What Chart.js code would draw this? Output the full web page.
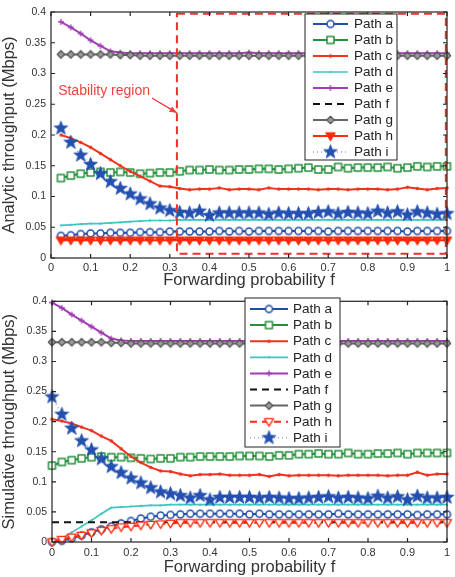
<!DOCTYPE html>
<html>
<head>
<meta charset="utf-8">
<script src="https://cdn.jsdelivr.net/npm/chart.js@4"></script>
<style>
  body { margin: 0; background: #fff; }
  canvas { display: block; }
</style>
</head>
<body>
<canvas id="top" width="455" height="290"></canvas>
<canvas id="bottom" width="455" height="287"></canvas>
<script>
// forwarding probability f
const xTop = [0.025,0.05,0.075,0.1,0.125,0.15,0.175,0.2,0.225,0.25,0.275,0.3,0.325,0.35,0.375,0.4,0.425,0.45,0.475,0.5,
  0.525,0.55,0.575,0.6,0.625,0.65,0.675,0.7,0.725,0.75,0.775,0.8,0.825,0.85,0.875,0.9,0.925,0.95,0.975,1];
const xBottom = [0,0.025,0.05,0.075,0.1,0.125,0.15,0.175,0.2,0.225,0.25,0.275,0.3,0.325,0.35,0.375,0.4,0.425,0.45,0.475,0.5,
  0.525,0.55,0.575,0.6,0.625,0.65,0.675,0.7,0.725,0.75,0.775,0.8,0.825,0.85,0.875,0.9,0.925,0.95,0.975,1];

const xTicks = [0,0.1,0.2,0.3,0.4,0.5,0.6,0.7,0.8,0.9,1];
const yTicks = [0,0.05,0.1,0.15,0.2,0.25,0.3,0.35,0.4];
const pathNames = ['Path a','Path b','Path c','Path d','Path e','Path f','Path g','Path h','Path i'];

// analytic throughput (Mbps)
const topA = [0.036,0.037,0.039,0.040,0.040,0.041,0.041,0.041,0.042,0.042,0.042,0.043,0.043,0.043,0.043,0.043,0.044,0.043,0.044,0.043,
  0.044,0.044,0.044,0.044,0.044,0.044,0.044,0.043,0.044,0.044,0.044,0.044,0.044,0.044,0.044,0.043,0.044,0.044,0.044,0.044];
const topB = [0.130,0.134,0.137,0.139,0.140,0.139,0.140,0.139,0.137,0.138,0.139,0.139,0.141,0.143,0.143,0.144,0.143,0.143,0.144,0.144,
  0.145,0.145,0.144,0.145,0.146,0.147,0.144,0.144,0.148,0.146,0.147,0.147,0.147,0.148,0.146,0.147,0.149,0.148,0.149,0.149];
const topC = [0.200,0.195,0.188,0.180,0.170,0.160,0.150,0.141,0.133,0.125,0.117,0.116,0.113,0.111,0.112,0.112,0.114,0.111,0.112,0.112,
  0.111,0.114,0.112,0.112,0.112,0.112,0.111,0.112,0.112,0.111,0.112,0.112,0.112,0.111,0.112,0.115,0.113,0.111,0.113,0.114];
const topD = [0.053,0.054,0.055,0.056,0.056,0.057,0.058,0.059,0.060,0.061,0.061,0.061,0.062,0.062,0.062,0.062,0.062,0.062,0.062,0.062,
  0.062,0.062,0.062,0.062,0.062,0.062,0.062,0.062,0.062,0.062,0.062,0.062,0.062,0.062,0.062,0.062,0.062,0.062,0.062,0.062];
const topE = [0.384,0.375,0.365,0.354,0.345,0.336,0.334,0.333,0.333,0.333,0.333,0.333,0.333,0.333,0.333,0.333,0.333,0.333,0.333,0.334,
  0.333,0.333,0.333,0.333,0.333,0.333,0.333,0.333,0.333,0.333,0.333,0.333,0.333,0.333,0.333,0.333,0.333,0.333,0.333,0.333];
const topF = [0.030,0.030,0.030,0.030,0.030,0.030,0.030,0.030,0.030,0.030,0.030,0.030,0.030,0.030,0.030,0.030,0.030,0.030,0.030,0.030,
  0.030,0.030,0.030,0.030,0.030,0.030,0.030,0.030,0.030,0.030,0.030,0.030,0.030,0.030,0.030,0.030,0.030,0.030,0.030,0.030];
const topG = [0.331,0.331,0.331,0.331,0.331,0.331,0.330,0.330,0.329,0.329,0.329,0.329,0.329,0.329,0.329,0.329,0.329,0.329,0.329,0.329,
  0.329,0.329,0.329,0.329,0.329,0.329,0.329,0.329,0.329,0.329,0.329,0.329,0.329,0.329,0.329,0.329,0.329,0.329,0.329,0.329];
const topH = [0.029,0.029,0.029,0.029,0.029,0.029,0.029,0.029,0.029,0.029,0.029,0.029,0.029,0.029,0.029,0.029,0.029,0.029,0.029,0.029,
  0.029,0.029,0.029,0.029,0.029,0.029,0.029,0.029,0.029,0.029,0.029,0.029,0.029,0.029,0.029,0.029,0.029,0.029,0.029,0.029];
const topI = [0.211,0.188,0.167,0.152,0.137,0.124,0.113,0.104,0.096,0.088,0.081,0.077,0.074,0.073,0.076,0.069,0.073,0.073,0.073,0.073,
  0.073,0.071,0.073,0.072,0.072,0.072,0.074,0.075,0.072,0.074,0.073,0.072,0.076,0.073,0.075,0.070,0.075,0.073,0.071,0.072];

// simulative throughput (Mbps)
const botA = [0.000,0.002,0.006,0.011,0.016,0.021,0.026,0.031,0.035,0.039,0.042,0.044,0.045,0.046,0.047,0.047,0.047,0.047,0.047,0.047,
  0.046,0.047,0.046,0.046,0.046,0.046,0.046,0.046,0.046,0.047,0.046,0.046,0.046,0.046,0.046,0.046,0.046,0.045,0.046,0.046,0.046];
const botB = [0.127,0.133,0.136,0.139,0.141,0.142,0.141,0.141,0.140,0.139,0.138,0.139,0.139,0.141,0.141,0.142,0.142,0.142,0.142,0.143,
  0.143,0.143,0.142,0.144,0.144,0.146,0.146,0.147,0.146,0.146,0.148,0.146,0.146,0.147,0.147,0.148,0.146,0.148,0.148,0.148,0.148];
const botC = [0.204,0.201,0.197,0.191,0.185,0.176,0.168,0.155,0.142,0.132,0.124,0.118,0.117,0.113,0.110,0.112,0.112,0.113,0.111,0.111,
  0.111,0.112,0.109,0.112,0.110,0.111,0.111,0.111,0.111,0.110,0.111,0.111,0.111,0.111,0.110,0.111,0.111,0.116,0.111,0.113,0.113];
const botD = [0.000,0.006,0.016,0.026,0.036,0.047,0.057,0.058,0.059,0.060,0.061,0.061,0.062,0.062,0.062,0.062,0.062,0.062,0.062,0.062,
  0.062,0.062,0.062,0.062,0.062,0.062,0.062,0.062,0.062,0.062,0.062,0.062,0.062,0.062,0.062,0.062,0.062,0.062,0.062,0.062,0.062];
const botE = [0.398,0.389,0.378,0.368,0.358,0.348,0.338,0.335,0.334,0.334,0.334,0.334,0.334,0.334,0.334,0.334,0.334,0.334,0.334,0.334,
  0.334,0.334,0.334,0.334,0.334,0.334,0.334,0.334,0.334,0.334,0.334,0.334,0.334,0.334,0.334,0.334,0.334,0.334,0.334,0.334,0.334];
const botF = [0.033,0.033,0.033,0.033,0.033,0.033,0.033,0.033,0.033,0.033,0.033,0.033,0.033,0.033,0.033,0.033,0.033,0.033,0.033,0.033,
  0.033,0.033,0.033,0.033,0.033,0.033,0.033,0.033,0.033,0.033,0.033,0.033,0.033,0.033,0.033,0.033,0.033,0.033,0.033,0.033,0.033];
const botG = [0.332,0.332,0.332,0.332,0.332,0.332,0.331,0.331,0.330,0.330,0.330,0.330,0.330,0.330,0.330,0.330,0.330,0.330,0.330,0.330,
  0.330,0.330,0.330,0.330,0.330,0.330,0.330,0.330,0.330,0.330,0.330,0.330,0.330,0.330,0.330,0.330,0.330,0.330,0.330,0.330,0.330];
const botH = [0.000,0.004,0.008,0.011,0.015,0.019,0.022,0.025,0.026,0.028,0.029,0.030,0.031,0.032,0.032,0.032,0.032,0.032,0.032,0.032,
  0.032,0.032,0.032,0.032,0.032,0.032,0.032,0.032,0.032,0.032,0.032,0.032,0.032,0.032,0.032,0.032,0.032,0.032,0.032,0.032,0.032];
const botI = [0.241,0.212,0.189,0.168,0.153,0.138,0.125,0.115,0.106,0.098,0.090,0.083,0.080,0.077,0.073,0.077,0.070,0.074,0.074,0.074,
  0.074,0.073,0.074,0.073,0.072,0.072,0.073,0.074,0.075,0.073,0.074,0.073,0.072,0.076,0.073,0.075,0.070,0.076,0.073,0.073,0.074];

Chart.defaults.font.family = '"Liberation Sans", Arial, sans-serif';
Chart.defaults.color = '#333';

// marker images, matlab style
function marker(shape, size, stroke, fill, lw) {
  const pad = Math.ceil(lw) + 1;
  const d = Math.ceil(size) + pad * 2;
  const c = document.createElement('canvas');
  c.width = d; c.height = d;
  const g = c.getContext('2d');
  const m = d / 2, r = size / 2;
  g.lineWidth = lw; g.strokeStyle = stroke; g.fillStyle = fill;
  g.lineJoin = 'round';
  g.beginPath();
  if (shape === 'circle') g.arc(m, m, r, 0, Math.PI * 2);
  else if (shape === 'square') g.rect(m - r, m - r, size, size);
  else if (shape === 'diamond') { g.moveTo(m, m - r); g.lineTo(m + r, m); g.lineTo(m, m + r); g.lineTo(m - r, m); g.closePath(); }
  else if (shape === 'tri') { g.moveTo(m - r, m - r * 0.7); g.lineTo(m + r, m - r * 0.7); g.lineTo(m, m + r); g.closePath(); }
  else if (shape === 'plus') { g.moveTo(m - r, m); g.lineTo(m + r, m); g.moveTo(m, m - r); g.lineTo(m, m + r); }
  else if (shape === 'star') {
    for (let k = 0; k < 10; k++) {
      const a = -Math.PI / 2 + k * Math.PI / 5;
      const rr = k % 2 ? r * 0.42 : r;
      g.lineTo(m + rr * Math.cos(a), m + rr * Math.sin(a));
    }
    g.closePath();
  }
  if (fill !== 'none' && shape !== 'plus') g.fill();
  g.stroke();
  return c;
}

function styles(hollowH) {
  return [
    { color: '#1f4ea8', width: 2, dash: [], pt: marker('circle', 7, '#1f4ea8', '#fff', 1.5) },
    { color: '#23903a', width: 2, dash: [], pt: marker('square', 7, '#23903a', '#fff', 1.5) },
    { color: '#f0321e', width: 2, dash: [], pt: marker('circle', 2.5, '#f0321e', '#f0321e', 1) },
    { color: '#3cc6c0', width: 1.7, dash: [], pt: marker('circle', 1.6, '#3cc6c0', '#3cc6c0', 0.8) },
    { color: '#a23cb4', width: 2, dash: [], pt: marker('plus', 6, '#a23cb4', 'none', 1.3) },
    { color: '#111', width: 2, dash: [7, 5], pt: null },
    { color: '#666', width: 2, dash: [], pt: marker('diamond', 7.5, '#555', '#9a9a9a', 1.2) },
    { color: '#ff2a0a', width: 2, dash: hollowH ? [7, 5] : [], pt: marker('tri', 9, '#ff2a0a', hollowH ? '#fff' : '#ff2a0a', 1.4) },
    { color: '#90a8e0', width: 1.5, dash: [1, 3], pt: marker('star', 14.5, '#2450b0', '#2450b0', 0.8) }
  ];
}

function makeDatasets(xs, series, hollowH) {
  const st = styles(hollowH);
  return series.map((ys, i) => ({
    label: pathNames[i],
    data: ys.map((v, k) => ({ x: xs[k], y: v })),
    borderColor: st[i].color,
    backgroundColor: st[i].color,
    borderWidth: st[i].width,
    borderDash: st[i].dash,
    pointStyle: st[i].pt || 'circle',
    pointRadius: st[i].pt ? 4 : 0,
    pointHoverRadius: st[i].pt ? 4 : 0,
    tension: 0,
    clip: false,
    order: 9 - i
  }));
}

// box, inward ticks, matlab legend, stability region
const matlab = {
  id: 'matlab',
  afterDatasetsDraw(chart, args, opts) {
    const ctx = chart.ctx;
    const a = chart.chartArea;
    const xs = chart.scales.x, ys = chart.scales.y;
    ctx.save();
    if (opts.region) {
      const R = opts.region;
      ctx.strokeStyle = '#f03030';
      ctx.lineWidth = 2;
      ctx.setLineDash([8, 5]);
      const x0 = xs.getPixelForValue(R.x0), x1 = xs.getPixelForValue(R.x1);
      const y0 = ys.getPixelForValue(R.y0), y1 = ys.getPixelForValue(R.y1);
      ctx.strokeRect(x0, y1, x1 - x0, y0 - y1);
      ctx.setLineDash([]);
      ctx.fillStyle = '#f04040';
      ctx.font = '14px "Liberation Sans", Arial, sans-serif';
      ctx.textBaseline = 'middle';
      ctx.fillText(R.text, xs.getPixelForValue(R.tx), ys.getPixelForValue(R.ty));
      const ax0 = xs.getPixelForValue(R.ax0), ay0 = ys.getPixelForValue(R.ay0);
      const ax1 = xs.getPixelForValue(R.ax1), ay1 = ys.getPixelForValue(R.ay1);
      ctx.lineWidth = 1.2;
      ctx.beginPath(); ctx.moveTo(ax0, ay0); ctx.lineTo(ax1, ay1); ctx.stroke();
      const ang = Math.atan2(ay1 - ay0, ax1 - ax0);
      ctx.beginPath();
      ctx.moveTo(ax1, ay1);
      ctx.lineTo(ax1 - 8 * Math.cos(ang - 0.4), ay1 - 8 * Math.sin(ang - 0.4));
      ctx.lineTo(ax1 - 8 * Math.cos(ang + 0.4), ay1 - 8 * Math.sin(ang + 0.4));
      ctx.closePath(); ctx.fill();
    }
    ctx.strokeStyle = '#222';
    ctx.lineWidth = 1.2;
    ctx.strokeRect(a.left, a.top, a.right - a.left, a.bottom - a.top);
    ctx.beginPath();
    xTicks.forEach(v => {
      const p = xs.getPixelForValue(v);
      ctx.moveTo(p, a.bottom); ctx.lineTo(p, a.bottom - 4);
      ctx.moveTo(p, a.top); ctx.lineTo(p, a.top + 4);
    });
    yTicks.forEach(v => {
      const p = ys.getPixelForValue(v);
      ctx.moveTo(a.left, p); ctx.lineTo(a.left + 4, p);
      ctx.moveTo(a.right, p); ctx.lineTo(a.right - 4, p);
    });
    ctx.stroke();

    const L = opts.legend;
    ctx.fillStyle = '#fff';
    ctx.fillRect(L.x, L.y, L.w, L.h);
    ctx.strokeStyle = '#222';
    ctx.lineWidth = 1;
    ctx.strokeRect(L.x, L.y, L.w, L.h);
    ctx.font = '13.5px "Liberation Sans", Arial, sans-serif';
    ctx.textBaseline = 'middle';
    chart.data.datasets.forEach((ds, i) => {
      const cy = L.row0 + i * L.rowH;
      ctx.strokeStyle = ds.borderColor;
      ctx.lineWidth = ds.borderWidth;
      ctx.setLineDash(ds.borderDash);
      ctx.beginPath(); ctx.moveTo(L.l0, cy); ctx.lineTo(L.l1, cy); ctx.stroke();
      ctx.setLineDash([]);
      if (ds.pointRadius > 0) {
        const im = ds.pointStyle;
        ctx.drawImage(im, (L.l0 + L.l1) / 2 - im.width / 2, cy - im.height / 2);
      }
      ctx.fillStyle = '#222';
      ctx.fillText(ds.label, L.tx, cy + 0.5);
    });
    ctx.restore();
  }
};

function options(yTitle, pad, xh, yw, tickPad, legend, region) {
  return {
    responsive: false,
    animation: false,
    layout: { padding: pad },
    plugins: { legend: { display: false }, tooltip: { enabled: false }, matlab: { legend, region } },
    events: [],
    scales: {
      x: {
        type: 'linear', min: 0, max: 1,
        afterBuildTicks: s => { s.ticks = xTicks.map(v => ({ value: v })); },
        ticks: { callback: v => String(+v.toFixed(2)), font: { size: 11 }, color: '#333', padding: tickPad, maxRotation: 0 },
        grid: { display: false, drawTicks: false }, border: { display: false },
        title: { display: true, text: 'Forwarding probability f', font: { size: 16.5 }, color: '#333', padding: { top: 0, bottom: 0 } },
        afterFit: s => { s.height = xh; }
      },
      y: {
        min: 0, max: 0.4,
        afterBuildTicks: s => { s.ticks = yTicks.map(v => ({ value: v })); },
        ticks: { callback: v => String(+v.toFixed(2)), font: { size: 10.5 }, color: '#333', padding: 5 },
        grid: { display: false, drawTicks: false }, border: { display: false },
        title: { display: true, text: yTitle, font: { size: 16.5 }, color: '#333', padding: { top: 0, bottom: 0 } },
        afterFit: s => { s.width = yw; }
      }
    }
  };
}

new Chart(document.getElementById('top'), {
  type: 'line',
  data: { datasets: makeDatasets(xTop, [topA, topB, topC, topD, topE, topF, topG, topH, topI], false) },
  options: options('Analytic throughput (Mbps)', { top: 12, right: 8, left: 0, bottom: 0 }, 32, 51, 3,
    { x: 305, y: 14, w: 92, h: 146, row0: 24, rowH: 16, l0: 313, l1: 348, tx: 354 },
    { x0: 0.318, x1: 0.997, y0: 0.007, y1: 0.397, text: 'Stability region', tx: 0.018, ty: 0.272,
      ax0: 0.255, ay0: 0.26, ax1: 0.318, ay1: 0.236 }),
  plugins: [matlab]
});

new Chart(document.getElementById('bottom'), {
  type: 'line',
  data: { datasets: makeDatasets(xBottom, [botA, botB, botC, botD, botE, botF, botG, botH, botI], true) },
  options: options('Simulative throughput (Mbps)', { top: 8, right: 8, left: 0, bottom: 0 }, 35, 52, 4,
    { x: 245, y: 8, w: 95, h: 149, row0: 19, rowH: 16.1, l0: 250, l1: 288, tx: 293 },
    null),
  plugins: [matlab]
});
</script>
</body>
</html>
